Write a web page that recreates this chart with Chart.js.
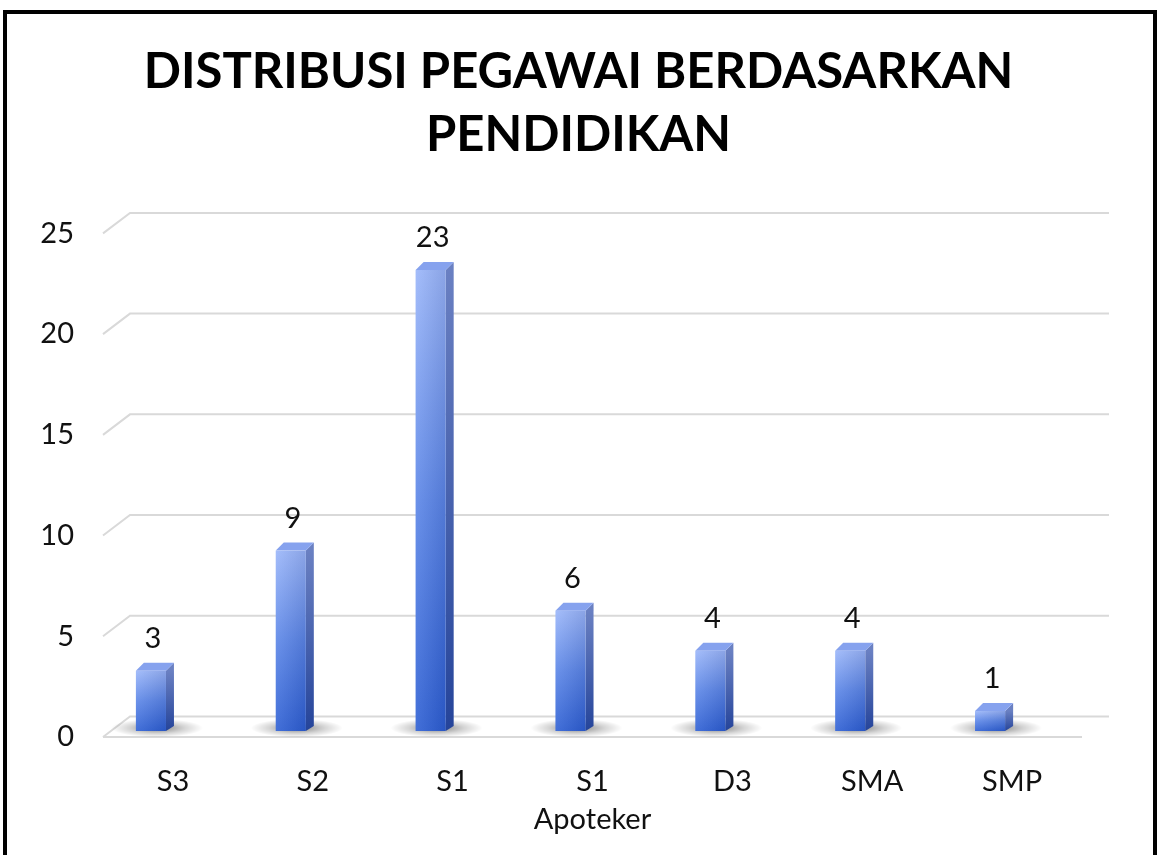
<!DOCTYPE html>
<html>
<head>
<meta charset="utf-8">
<script src="https://cdn.jsdelivr.net/npm/chart.js@4"></script>
<style>
  html, body { margin: 0; padding: 0; background: #ffffff; }
  #wadah { position: absolute; left: 0; top: 0; width: 1157px; height: 855px; }
  #bingkai {
    position: absolute; left: 3px; top: 10px; width: 1154px; height: 900px;
    box-sizing: border-box; border: 4px solid #000; pointer-events: none;
  }
</style>
</head>
<body>
<div id="wadah"><canvas id="grafik" width="1157" height="855"></canvas></div>
<div id="bingkai"></div>
<script>
// Data pegawai per jenjang pendidikan
const kategori = ["S3", "S2", "S1", ["S1", "Apoteker"], "D3", "SMA", "SMP"];
const jumlahPegawai = [3, 9, 23, 6, 4, 4, 1];
const nilaiSumbuY = [0, 5, 10, 15, 20, 25];
const judul = ["DISTRIBUSI PEGAWAI BERDASARKAN", "PENDIDIKAN"];

const FONT = "Lato, 'Open Sans', sans-serif";

// Dinding belakang digeser sedikit ke kanan-atas (efek 3D ala Excel)
const DALAM_X = 27;
const DALAM_Y = -20.5;

const gridTigaDimensi = {
  id: "gridTigaDimensi",
  beforeDatasetsDraw(chart) {
    const { ctx, chartArea } = chart;
    const y = chart.scales.y;
    ctx.save();
    ctx.strokeStyle = "#d9d9d9";
    ctx.lineWidth = 2;
    nilaiSumbuY.forEach((v) => {
      const py = y.getPixelForValue(v);
      ctx.beginPath();
      ctx.moveTo(chartArea.left, py);
      ctx.lineTo(chartArea.left + DALAM_X, py + DALAM_Y);
      ctx.lineTo(chartArea.right + DALAM_X, py + DALAM_Y);
      ctx.stroke();
    });
    // Tepi depan lantai
    const p0 = y.getPixelForValue(0);
    ctx.beginPath();
    ctx.moveTo(chartArea.left, p0);
    ctx.lineTo(chartArea.right, p0);
    ctx.stroke();
    ctx.restore();
  },
};

const batangTigaDimensi = {
  id: "batangTigaDimensi",
  afterDatasetsDraw(chart) {
    const { ctx } = chart;
    const meta = chart.getDatasetMeta(0);
    const geser = -22; // batang berdiri agak ke belakang
    const dx = 8;
    const dy = -8;
    ctx.save();
    meta.data.forEach((el, i) => {
      const w = el.width;
      const fl = el.x + geser - w / 2;
      const fr = fl + w;
      const by = el.base - 6;
      const ty = by - (el.base - el.y) * 0.995;

      // Bayangan lembut di lantai
      const cx = (fl + fr) / 2 + 6;
      const cy = by - 3;
      ctx.save();
      ctx.translate(cx, cy);
      ctx.scale(1, 0.2);
      const bay = ctx.createRadialGradient(0, 0, 6, 0, 0, 46);
      bay.addColorStop(0, "rgba(0,0,0,0.42)");
      bay.addColorStop(0.55, "rgba(0,0,0,0.16)");
      bay.addColorStop(1, "rgba(0,0,0,0)");
      ctx.fillStyle = bay;
      ctx.beginPath();
      ctx.arc(0, 0, 46, 0, Math.PI * 2);
      ctx.fill();
      ctx.restore();

      // Sisi kanan
      const gs = ctx.createLinearGradient(0, ty, 0, by);
      gs.addColorStop(0, "#6a80c2");
      gs.addColorStop(1, "#25449a");
      ctx.fillStyle = gs;
      ctx.beginPath();
      ctx.moveTo(fr, ty);
      ctx.lineTo(fr + dx, ty + dy);
      ctx.lineTo(fr + dx, by + dy + 3);
      ctx.lineTo(fr, by);
      ctx.closePath();
      ctx.fill();

      // Atap
      ctx.fillStyle = "#86a2ee";
      ctx.beginPath();
      ctx.moveTo(fl, ty);
      ctx.lineTo(fl + dx, ty + dy);
      ctx.lineTo(fr + dx, ty + dy);
      ctx.lineTo(fr, ty);
      ctx.closePath();
      ctx.fill();

      // Muka depan
      const gd = ctx.createLinearGradient(0, ty, 0, by);
      gd.addColorStop(0, "#9ab6fa");
      gd.addColorStop(0.5, "#5b86e8");
      gd.addColorStop(1, "#2d5fd4");
      ctx.fillStyle = gd;
      ctx.fillRect(fl, ty, w, by - ty);
      const gh = ctx.createLinearGradient(fl, 0, fr, 0);
      gh.addColorStop(0, "rgba(255,255,255,0.10)");
      gh.addColorStop(1, "rgba(0,0,40,0.10)");
      ctx.fillStyle = gh;
      ctx.fillRect(fl, ty, w, by - ty);

      // Label nilai
      ctx.fillStyle = "#111";
      ctx.font = "29px " + FONT;
      ctx.textAlign = "center";
      ctx.textBaseline = "middle";
      ctx.fillText(String(jumlahPegawai[i]), (fl + fr) / 2 + 2, ty + dy - 24);
    });
    ctx.restore();
  },
};

new Chart(document.getElementById("grafik"), {
  type: "bar",
  data: {
    labels: kategori,
    datasets: [
      {
        data: jumlahPegawai,
        backgroundColor: "rgba(0,0,0,0)",
        borderWidth: 0,
        barPercentage: 0.215,
        categoryPercentage: 1,
      },
    ],
  },
  options: {
    responsive: false,
    animation: false,
    layout: { padding: 0 },
    plugins: {
      legend: { display: false },
      tooltip: { enabled: false },
      title: {
        display: true,
        text: judul,
        color: "#000",
        font: { family: FONT, size: 49, weight: "bold", lineHeight: 1.3 },
        padding: { top: 40, bottom: 66 },
      },
    },
    scales: {
      x: {
        grid: { display: false },
        border: { display: false },
        ticks: {
          color: "#111",
          font: { family: FONT, size: 29, lineHeight: 1.3 },
          padding: 18,
          maxRotation: 0,
        },
        afterFit(scale) {
          scale.height = 118;
        },
      },
      y: {
        min: 0,
        max: 25,
        grid: { display: false, drawTicks: false },
        border: { display: false },
        ticks: {
          color: "#111",
          font: { family: FONT, size: 29 },
          padding: 29,
        },
        afterBuildTicks(scale) {
          scale.ticks = nilaiSumbuY.map((v) => ({ value: v }));
        },
        afterFit(scale) {
          scale.width = 103;
        },
      },
      // Sumbu kosong di kanan hanya untuk menyisakan ruang, judul tetap di tengah
      kanan: {
        position: "right",
        display: true,
        grid: { display: false, drawTicks: false },
        border: { display: false },
        ticks: { display: false },
        afterFit(scale) {
          scale.width = 75;
        },
      },
    },
  },
  plugins: [gridTigaDimensi, batangTigaDimensi],
});
</script>
</body>
</html>
